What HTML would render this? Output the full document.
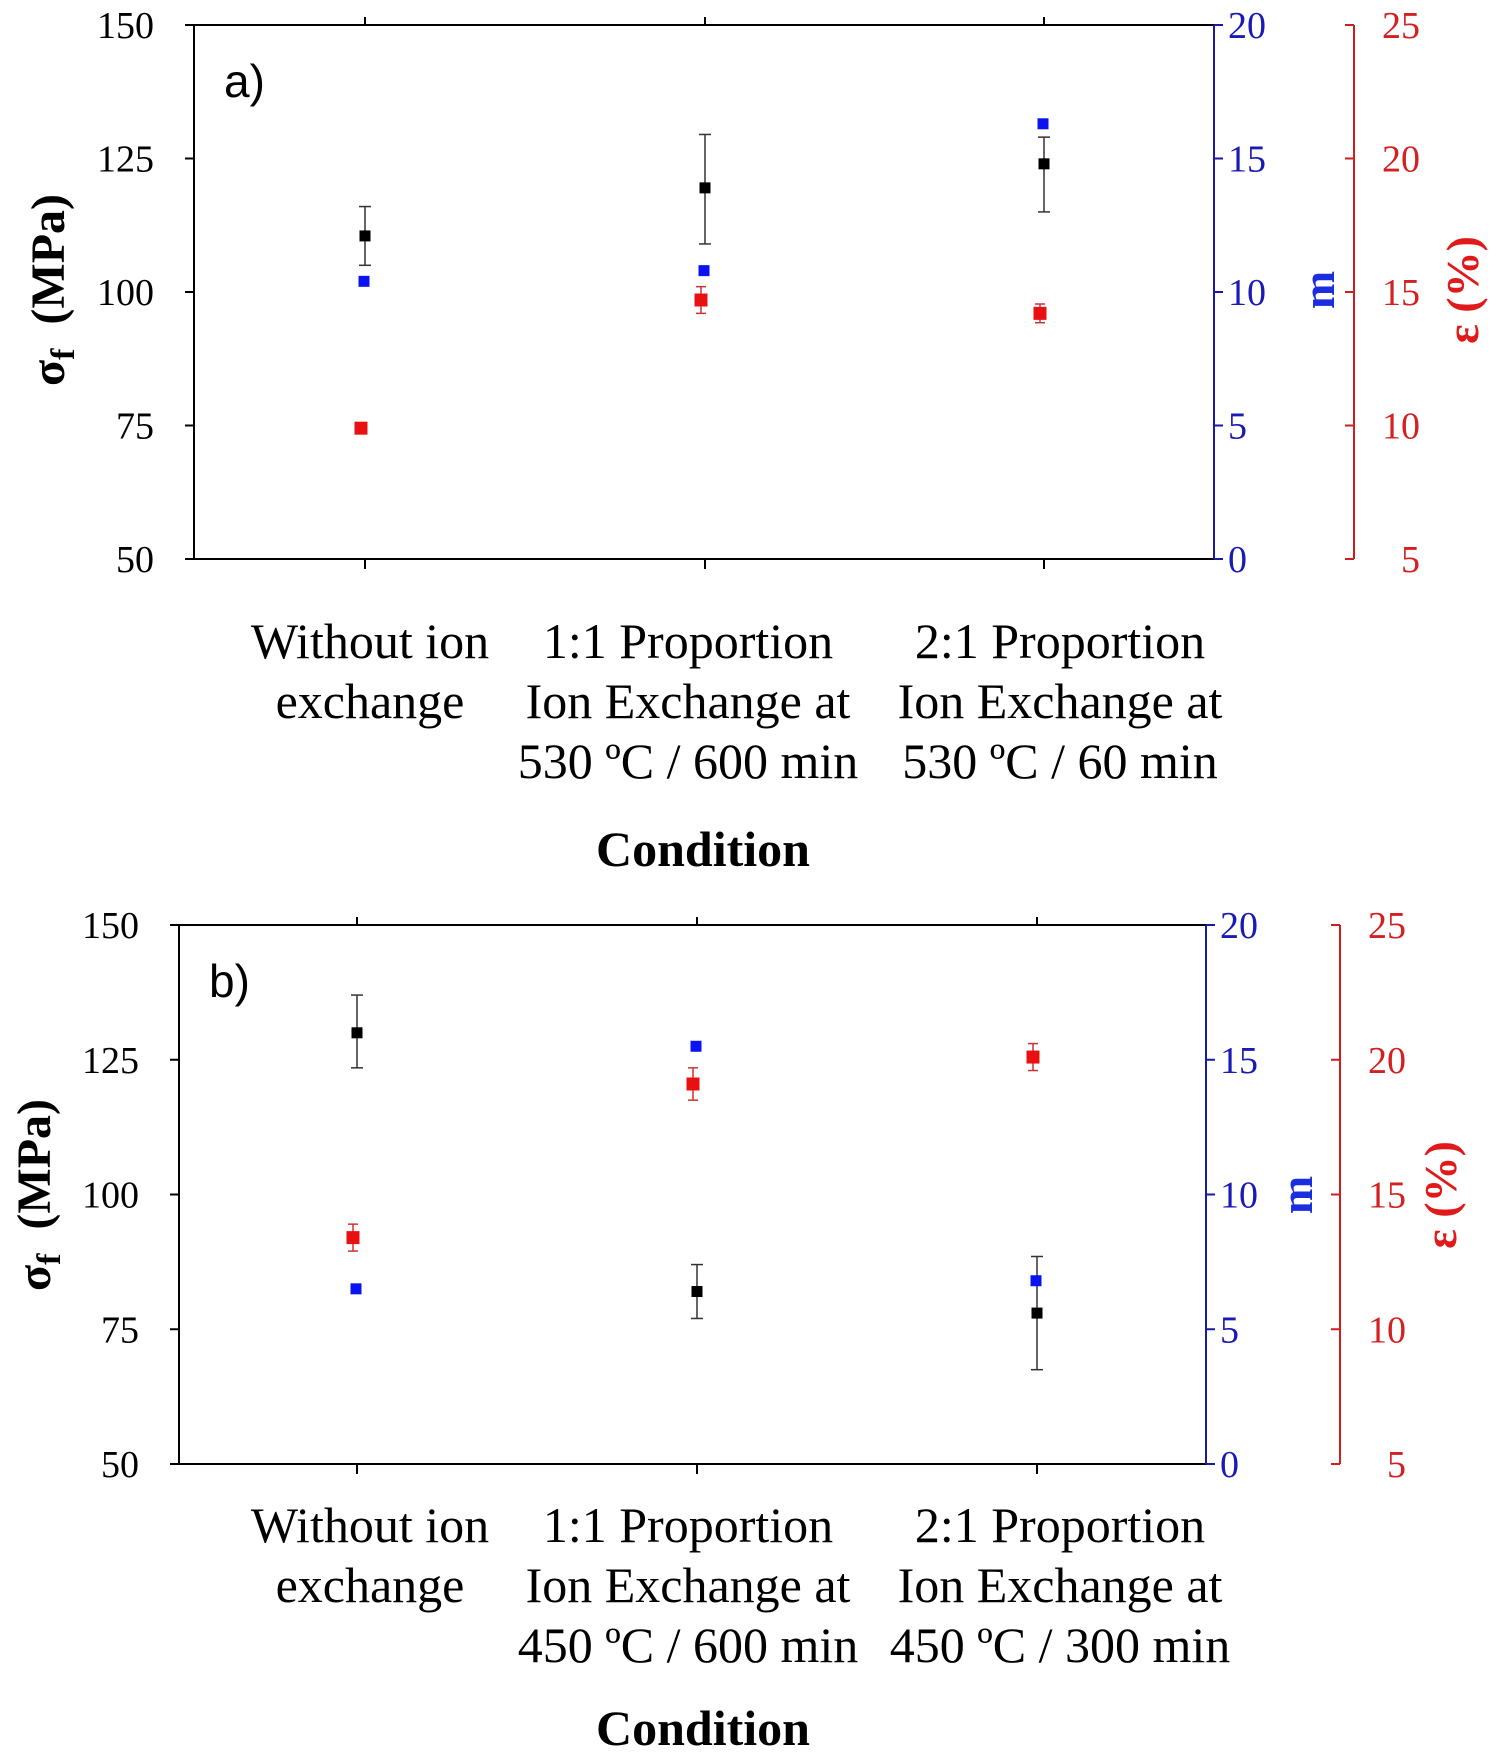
<!DOCTYPE html>
<html><head><meta charset="utf-8"><style>
html,body{margin:0;padding:0;background:#fff}
svg{display:block}
text{font-family:"Liberation Serif",serif}
</style></head><body>
<svg id="chart" width="1508" height="1755" xmlns="http://www.w3.org/2000/svg"></svg>
<script>
const categoriesA = [["Without ion","exchange"],["1:1 Proportion","Ion Exchange at","530 \u00baC / 600 min"],["2:1 Proportion","Ion Exchange at","530 \u00baC / 60 min"]];
const categoriesB = [["Without ion","exchange"],["1:1 Proportion","Ion Exchange at","450 \u00baC / 600 min"],["2:1 Proportion","Ion Exchange at","450 \u00baC / 300 min"]];
const sigmaA = [110.5, 119.5, 124];
const sigmaLoA = [105, 109, 115];
const sigmaHiA = [116, 129.5, 129];
const mA = [10.4, 10.8, 16.3];
const epsA = [9.9, 14.7, 14.2];
const epsErrA = [0.2, 0.5, 0.35];
const sigmaB = [130, 82, 78];
const sigmaLoB = [123.5, 77, 67.5];
const sigmaHiB = [137, 87, 88.5];
const mB = [6.5, 15.5, 6.8];
const epsB = [13.4, 19.1, 20.1];
const epsErrB = [0.5, 0.6, 0.5];
const sigmaTicks = [50,75,100,125,150];
const mTicks = [0,5,10,15,20];
const epsTicks = [5,10,15,20,25];

const svg = document.getElementById('chart');
const NS = 'http://www.w3.org/2000/svg';
function el(tag, attrs, parent){const e=document.createElementNS(NS,tag);for(const k in attrs)e.setAttribute(k,attrs[k]);(parent||svg).appendChild(e);return e;}

function panel(cfg){
  const g = el('g',{});
  
  
  const {L,R,T,B,blueX,redX,cx} = cfg;
  const yS = v => B - (v-50)/100*(B-T);
  const yM = v => B - v/20*(B-T);
  const yE = v => B - (v-5)/20*(B-T);
  el('line',{x1:L,y1:T,x2:blueX,y2:T,stroke:'#000','stroke-width':2},g);
  el('line',{x1:L,y1:B,x2:blueX,y2:B,stroke:'#000','stroke-width':2},g);
  el('line',{x1:L,y1:T,x2:L,y2:B,stroke:'#000','stroke-width':2},g);
  el('line',{x1:blueX,y1:T,x2:blueX,y2:B,stroke:'#1a1aa0','stroke-width':2},g);
  el('line',{x1:redX,y1:T,x2:redX,y2:B,stroke:'#cc1f1f','stroke-width':2},g);
  sigmaTicks.forEach(v=>{
    el('line',{x1:L-9,y1:yS(v),x2:L,y2:yS(v),stroke:'#000','stroke-width':2},g);
    const t=el('text',{x:L-40,y:yS(v)+13,'text-anchor':'end','font-size':38,fill:'#000'},g);t.textContent=v;
  });
  mTicks.forEach(v=>{
    el('line',{x1:blueX,y1:yM(v),x2:blueX+9,y2:yM(v),stroke:'#1a1aa0','stroke-width':2},g);
    const t=el('text',{x:blueX+14,y:yM(v)+13,'font-size':38,fill:'#1a1ab4'},g);t.textContent=v;
  });
  epsTicks.forEach(v=>{
    el('line',{x1:redX-9,y1:yE(v),x2:redX,y2:yE(v),stroke:'#cc1f1f','stroke-width':2},g);
    const t=el('text',{x:redX+66,y:yE(v)+13,'text-anchor':'end','font-size':38,fill:'#d42020'},g);t.textContent=v;
  });
  cx.forEach(x=>{
    el('line',{x1:x,y1:T-8,x2:x,y2:T,stroke:'#000','stroke-width':2},g);
    el('line',{x1:x,y1:B,x2:x,y2:B+10,stroke:'#000','stroke-width':2},g);
  });
  cfg.cats.forEach((lines,i)=>{
    lines.forEach((s,j)=>{
      const t=el('text',{x:cfg.labelX[i],y:cfg.labelY+j*60,'text-anchor':'middle','font-size':50,fill:'#000'},g);
      t.textContent=s;
      
      
    });
  });
  const ct=el('text',{x:cfg.condX,y:cfg.condY,'text-anchor':'middle','font-size':50,'font-weight':'bold',fill:'#000'},g);
  ct.textContent='Condition';
  
  
  const pl=el('text',{x:L+30,y:T+72,'font-size':46,fill:'#000',style:'font-family:"Liberation Sans",sans-serif'},g);
  pl.textContent=cfg.id+')';
  
  
  const yt=el('text',{transform:`translate(${cfg.yTitleX},${cfg.titleY}) rotate(-90)`,'text-anchor':'middle','font-size':48,'font-weight':'bold',fill:'#000'},g);
  yt.innerHTML='\u03c3<tspan font-size="34" dy="10">f</tspan><tspan dy="-10">\u00a0\u00a0(MPa)</tspan>';
  
  
  const mt=el('text',{transform:`translate(${cfg.mTitleX},${cfg.titleY}) rotate(-90)`,'text-anchor':'middle','font-size':46,'font-weight':'bold',fill:'#1a2ee0'},g);
  mt.textContent='m';
  
  
  const et=el('text',{transform:`translate(${cfg.eTitleX},${cfg.titleY}) rotate(-90)`,'text-anchor':'middle','font-size':46,'font-weight':'bold',fill:'#e01a1a'},g);
  et.textContent='\u03b5 (%)';
  
  
  const s=11;
  cx.forEach((x,i)=>{
    el('line',{x1:x,y1:yS(cfg.lo[i]),x2:x,y2:yS(cfg.hi[i]),stroke:'#333','stroke-width':1.5},g);
    el('line',{x1:x-6,y1:yS(cfg.lo[i]),x2:x+6,y2:yS(cfg.lo[i]),stroke:'#333','stroke-width':1.5},g);
    el('line',{x1:x-6,y1:yS(cfg.hi[i]),x2:x+6,y2:yS(cfg.hi[i]),stroke:'#333','stroke-width':1.5},g);
    const ex=x-4;
    el('line',{x1:ex,y1:yE(cfg.eps[i]-cfg.epsErr[i]),x2:ex,y2:yE(cfg.eps[i]+cfg.epsErr[i]),stroke:'#c33','stroke-width':1.5},g);
    el('line',{x1:ex-5,y1:yE(cfg.eps[i]-cfg.epsErr[i]),x2:ex+5,y2:yE(cfg.eps[i]-cfg.epsErr[i]),stroke:'#c33','stroke-width':1.5},g);
    el('line',{x1:ex-5,y1:yE(cfg.eps[i]+cfg.epsErr[i]),x2:ex+5,y2:yE(cfg.eps[i]+cfg.epsErr[i]),stroke:'#c33','stroke-width':1.5},g);
    const r=el('rect',{x:ex-s/2-1,y:yE(cfg.eps[i])-s/2-1,width:s+2,height:s+2,fill:'#e81010'},g);
    
    
    const b=el('rect',{x:x-s/2-1,y:yM(cfg.m[i])-s/2,width:s,height:s,fill:'#0a14f0'},g);
    
    
    const k=el('rect',{x:x-s/2,y:yS(cfg.sigma[i])-s/2,width:s,height:s,fill:'#000'},g);
    
    
  });
}
panel({id:'a',L:194,R:1214,T:25,B:559,blueX:1214,redX:1354,cx:[365,705,1044],
  cats:categoriesA,labelX:[370,688,1060],labelY:658,condX:703,condY:866,
  yTitleX:64,mTitleX:1334,eTitleX:1478,titleY:290,
  sigma:sigmaA,lo:sigmaLoA,hi:sigmaHiA,m:mA,eps:epsA,epsErr:epsErrA});
panel({id:'b',L:179,R:1206,T:925,B:1464,blueX:1206,redX:1340,cx:[357,697,1037],
  cats:categoriesB,labelX:[370,688,1060],labelY:1542,condX:703,condY:1745,
  yTitleX:50,mTitleX:1312,eTitleX:1456,titleY:1195,
  sigma:sigmaB,lo:sigmaLoB,hi:sigmaHiB,m:mB,eps:epsB,epsErr:epsErrB});
</script>
</body></html>
